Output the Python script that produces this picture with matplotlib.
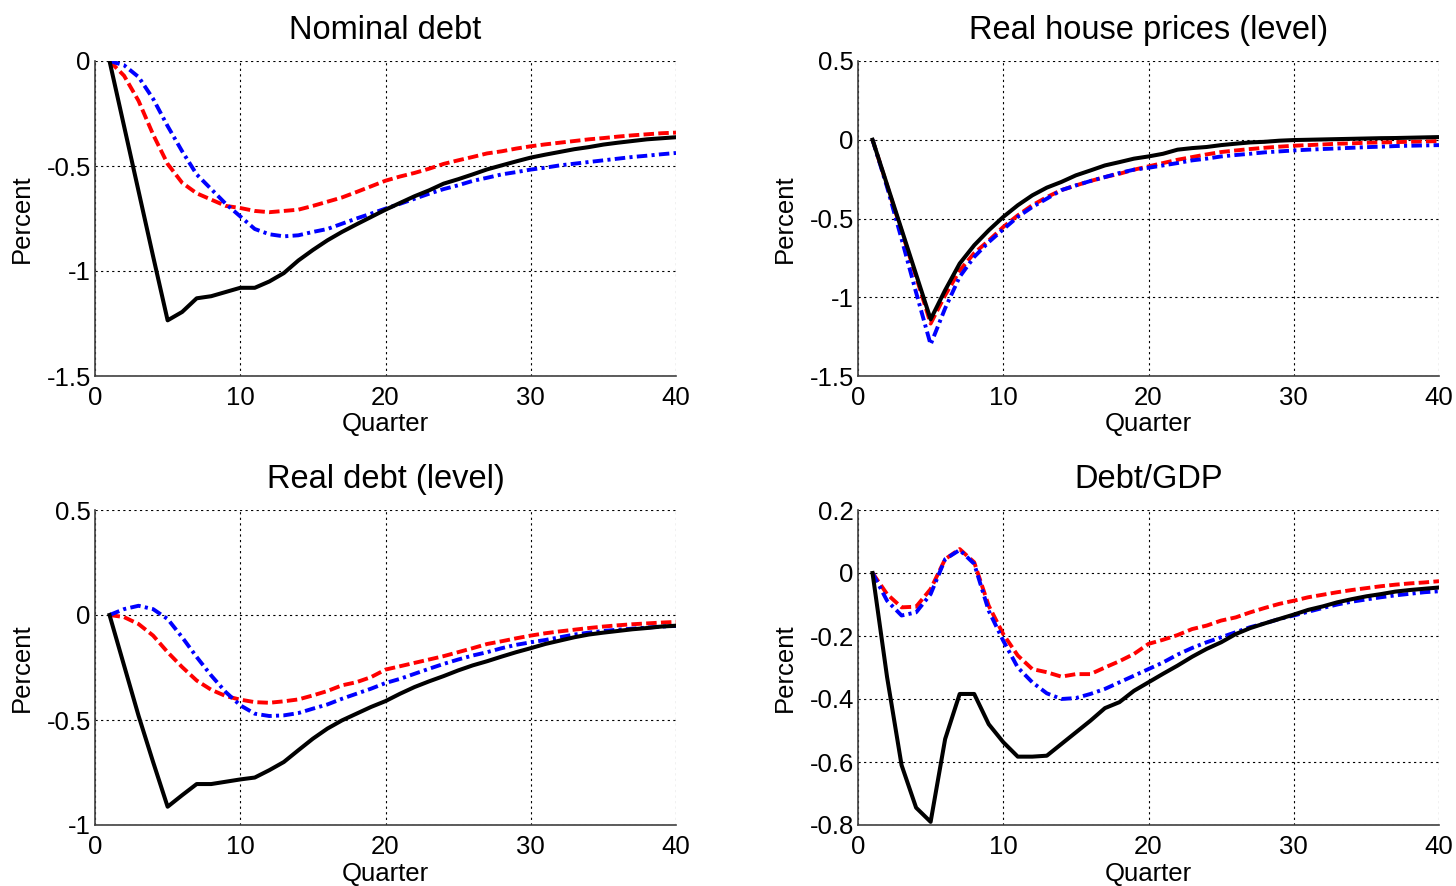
import numpy as np
import matplotlib
matplotlib.use("Agg")
import matplotlib.pyplot as plt

quarters = list(range(1, 41))

# Nominal debt
nom_black = [0, -0.31, -0.62, -0.93, -1.235, -1.195, -1.13, -1.12, -1.10, -1.08,
             -1.08, -1.05, -1.01, -0.95, -0.90, -0.854, -0.814, -0.778, -0.743, -0.708,
             -0.676, -0.644, -0.616, -0.584, -0.563, -0.54, -0.516, -0.497, -0.478, -0.46,
             -0.446, -0.433, -0.42, -0.41, -0.398, -0.389, -0.381, -0.373, -0.368, -0.363]
nom_red = [0, -0.07, -0.19, -0.35, -0.49, -0.58, -0.63, -0.66, -0.69, -0.70,
           -0.714, -0.72, -0.714, -0.708, -0.69, -0.67, -0.65, -0.624, -0.597, -0.57,
           -0.55, -0.533, -0.513, -0.49, -0.473, -0.457, -0.44, -0.43, -0.417, -0.406,
           -0.397, -0.389, -0.381, -0.373, -0.367, -0.36, -0.354, -0.349, -0.344, -0.341]
nom_blue = [0, -0.02, -0.076, -0.18, -0.31, -0.43, -0.54, -0.61, -0.68, -0.74,
            -0.80, -0.825, -0.835, -0.83, -0.814, -0.80, -0.775, -0.75, -0.727, -0.703,
            -0.68, -0.656, -0.632, -0.61, -0.592, -0.571, -0.556, -0.54, -0.529, -0.517,
            -0.508, -0.497, -0.489, -0.481, -0.473, -0.465, -0.457, -0.451, -0.444, -0.438]

# Real house prices (level)
hp_black = [0, -0.285, -0.57, -0.855, -1.14, -0.955, -0.786, -0.67, -0.575, -0.49,
            -0.416, -0.353, -0.304, -0.268, -0.226, -0.195, -0.163, -0.142, -0.12, -0.106,
            -0.089, -0.063, -0.053, -0.046, -0.034, -0.025, -0.017, -0.013, -0.006, -0.002,
            0.0, 0.002, 0.004, 0.006, 0.008, 0.01, 0.011, 0.013, 0.015, 0.017]
hp_red = [0, -0.29, -0.58, -0.87, -1.167, -0.987, -0.83, -0.72, -0.64, -0.554,
          -0.48, -0.416, -0.364, -0.32, -0.29, -0.262, -0.237, -0.216, -0.19, -0.169,
          -0.148, -0.127, -0.11, -0.093, -0.078, -0.068, -0.059, -0.051, -0.044, -0.038,
          -0.034, -0.03, -0.025, -0.023, -0.019, -0.017, -0.015, -0.013, -0.011, -0.008]
hp_blue = [0, -0.3, -0.63, -0.97, -1.30, -1.07, -0.87, -0.744, -0.65, -0.569,
           -0.49, -0.427, -0.374, -0.32, -0.29, -0.262, -0.237, -0.211, -0.19, -0.178,
           -0.163, -0.148, -0.131, -0.12, -0.106, -0.097, -0.089, -0.08, -0.074, -0.068,
           -0.063, -0.059, -0.055, -0.051, -0.047, -0.044, -0.04, -0.038, -0.036, -0.034]

# Real debt (level)
rd_black = [0, -0.24, -0.48, -0.70, -0.913, -0.858, -0.805, -0.805, -0.794, -0.783,
            -0.774, -0.739, -0.70, -0.644, -0.589, -0.541, -0.502, -0.47, -0.438, -0.41,
            -0.375, -0.343, -0.316, -0.291, -0.264, -0.24, -0.22, -0.198, -0.177, -0.158,
            -0.138, -0.122, -0.106, -0.093, -0.084, -0.076, -0.068, -0.062, -0.055, -0.051]
rd_red = [0, -0.01, -0.043, -0.098, -0.177, -0.248, -0.312, -0.356, -0.386, -0.403,
          -0.415, -0.418, -0.411, -0.402, -0.383, -0.362, -0.335, -0.32, -0.296, -0.26,
          -0.244, -0.228, -0.212, -0.196, -0.177, -0.158, -0.138, -0.125, -0.111, -0.098,
          -0.087, -0.078, -0.07, -0.062, -0.055, -0.049, -0.044, -0.04, -0.036, -0.033]
rd_blue = [0, 0.028, 0.044, 0.028, -0.019, -0.106, -0.20, -0.288, -0.367, -0.43,
           -0.47, -0.481, -0.478, -0.467, -0.446, -0.426, -0.399, -0.375, -0.351, -0.324,
           -0.304, -0.28, -0.256, -0.233, -0.212, -0.193, -0.177, -0.158, -0.142, -0.13,
           -0.119, -0.106, -0.093, -0.084, -0.076, -0.07, -0.065, -0.06, -0.055, -0.052]

# Debt/GDP
dg_black = [0, -0.33, -0.61, -0.745, -0.79, -0.527, -0.384, -0.384, -0.48, -0.537,
            -0.583, -0.583, -0.58, -0.543, -0.506, -0.469, -0.429, -0.41, -0.374, -0.347,
            -0.32, -0.294, -0.266, -0.241, -0.22, -0.194, -0.175, -0.16, -0.146, -0.132,
            -0.117, -0.106, -0.093, -0.083, -0.074, -0.067, -0.059, -0.054, -0.05, -0.046]
dg_red = [0, -0.067, -0.109, -0.107, -0.051, 0.044, 0.076, 0.034, -0.104, -0.194,
          -0.262, -0.305, -0.315, -0.329, -0.321, -0.321, -0.30, -0.28, -0.257, -0.225,
          -0.212, -0.197, -0.178, -0.167, -0.151, -0.141, -0.125, -0.111, -0.098, -0.088,
          -0.077, -0.069, -0.061, -0.054, -0.048, -0.042, -0.037, -0.033, -0.03, -0.026]
dg_blue = [0, -0.088, -0.135, -0.125, -0.067, 0.044, 0.073, 0.029, -0.12, -0.215,
           -0.30, -0.347, -0.382, -0.40, -0.397, -0.384, -0.368, -0.347, -0.326, -0.305,
           -0.284, -0.259, -0.238, -0.22, -0.204, -0.188, -0.172, -0.16, -0.146, -0.135,
           -0.123, -0.111, -0.10, -0.091, -0.084, -0.077, -0.071, -0.066, -0.061, -0.058]

titles = ["Nominal debt", "Real house prices (level)", "Real debt (level)", "Debt/GDP"]
ylims = [(-1.5, 0), (-1.5, 0.5), (-1.0, 0.5), (-0.8, 0.2)]
yticks = [[-1.5, -1, -0.5, 0], [-1.5, -1, -0.5, 0, 0.5], [-1, -0.5, 0, 0.5],
          [-0.8, -0.6, -0.4, -0.2, 0, 0.2]]
ytick_labels = [["-1.5", "-1", "-0.5", "0"], ["-1.5", "-1", "-0.5", "0", "0.5"],
                ["-1", "-0.5", "0", "0.5"], ["-0.8", "-0.6", "-0.4", "-0.2", "0", "0.2"]]
xticks = [0, 10, 20, 30, 40]
series = [(nom_black, nom_red, nom_blue), (hp_black, hp_red, hp_blue),
          (rd_black, rd_red, rd_blue), (dg_black, dg_red, dg_blue)]

plt.rcParams['font.family'] = ['Liberation Sans', 'DejaVu Sans']

W, H = 1456, 886
fig = plt.figure(figsize=(W / 100, H / 100), dpi=100)

boxes = [(95, 61, 676, 376), (858, 61, 1439, 376), (95, 510, 676, 825), (858, 510, 1439, 825)]

for i, (l, t, r, b) in enumerate(boxes):
    ax = fig.add_axes([l / W, 1 - b / H, (r - l) / W, (b - t) / H])
    blk, red, blu = series[i]
    ax.plot(quarters, red, color='#ff0000', lw=2.8, dashes=(2.7, 1.1), zorder=3)
    ax.plot(quarters, blu, color='#0000ff', lw=2.8, dashes=(2.7, 1.1, 0.8, 1.1), zorder=3)
    ax.plot(quarters, blk, color='black', lw=2.9, zorder=4)
    ax.set_xlim(0, 40)
    ax.set_ylim(*ylims[i])
    ax.set_xticks(xticks)
    ax.set_xticklabels([str(v) for v in xticks])
    ax.set_yticks(yticks[i])
    ax.set_yticklabels(ytick_labels[i])
    ax.grid(True, color='black', linestyle=(0, (2, 3)), linewidth=0.8)
    for s in ['top', 'right']:
        ax.spines[s].set_visible(False)
    for s in ['left', 'bottom']:
        ax.spines[s].set_color('#404040')
        ax.spines[s].set_linewidth(1.2)
    ax.tick_params(direction='in', length=0, labelsize=18.5, colors='black')
    ax.tick_params(axis='x', pad=7)
    ax.tick_params(axis='y', pad=3)
    ax.set_title(titles[i], fontsize=23.5, pad=16)
    ax.set_xlabel("Quarter", fontsize=18.5, labelpad=2)
    ax.set_ylabel("Percent", fontsize=18.5, labelpad=9)

fig.savefig("out.png", dpi=100)
